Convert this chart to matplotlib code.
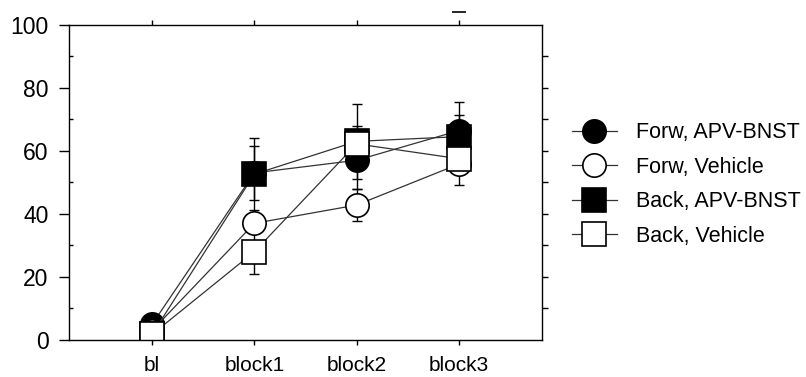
import matplotlib
matplotlib.use("Agg")
import matplotlib.pyplot as plt
import numpy as np

plt.rcParams['font.family'] = ['Liberation Sans', 'DejaVu Sans']

categories = ["bl", "block1", "block2", "block3"]
series_names = ["Forw, APV-BNST", "Forw, Vehicle", "Back, APV-BNST", "Back, Vehicle"]

forw_apv = [5.0, 53.0, 57.0, 66.4]
forw_apv_err = [0.0, 8.5, 9.0, 9.0]
forw_veh = [3.0, 37.0, 42.8, 55.8]
forw_veh_err = [0.0, 3.0, 5.0, 6.6]
back_apv = [1.8, 52.6, 63.0, 64.5]
back_apv_err = [0.0, 11.5, 12.0, 7.0]
back_veh = [1.8, 28.0, 62.2, 57.5]
back_veh_err = [0.0, 7.0, 5.7, 5.0]

stray_x = [3]
stray_y = [104]

W, H = 806, 377
fig = plt.figure(figsize=(W / 100, H / 100), dpi=100)
ax = fig.add_axes([69.3 / W, 1 - 340 / H, (541.7 - 69.3) / W, (340 - 24.7) / H])

x = np.arange(len(categories))
data = [(forw_apv, forw_apv_err, 'o', 'black'),
        (forw_veh, forw_veh_err, 'o', 'white'),
        (back_apv, back_apv_err, 's', 'black'),
        (back_veh, back_veh_err, 's', 'white')]

for vals, errs, m, fc in data:
    ax.errorbar(x, vals, yerr=errs, fmt='none', ecolor='black', elinewidth=1.0,
                capsize=3.8, capthick=1.0, zorder=2)

handles = []
for i, (vals, errs, m, fc) in enumerate(data):
    ln, = ax.plot(x, vals, color='#333333', lw=0.9, marker=m, ms=16.8,
                  mfc=fc, mec='black', mew=1.2, zorder=3 + i, clip_on=True,
                  label=series_names[i])
    handles.append(ln)

ax.plot(stray_x, stray_y, marker='_', ms=10, mew=1.2, color='black', ls='none', clip_on=False)

ax.set_xlim(-0.81, 3.81)
ax.set_ylim(0, 100)
ax.set_xticks(x)
ax.set_xticklabels(categories, fontsize=15)
ax.set_yticks(np.arange(0, 101, 20))
ax.set_yticklabels([str(v) for v in range(0, 101, 20)], fontsize=16.5)
ax.set_yticks(np.arange(10, 100, 20), minor=True)
ax.tick_params(axis='y', which='major', direction='out', length=7, width=1, pad=8)
ax.tick_params(axis='y', which='minor', direction='in', length=3, width=1)
ax.tick_params(axis='x', which='major', direction='out', length=3.5, width=1,
               top=True, pad=8)
for s in ax.spines.values():
    s.set_linewidth(1.0)
    s.set_zorder(10)

ax2 = ax.twinx()
ax2.set_ylim(0, 100)
ax2.set_yticks(np.arange(10, 100, 10))
ax2.tick_params(axis='y', direction='out', length=4.5, width=1, labelright=False)
for s in ax2.spines.values():
    s.set_visible(False)

fig.legend(handles=handles, labels=series_names, loc='upper left',
           bbox_to_anchor=(571.7 / W, 1 - 122.5 / H), frameon=False,
           fontsize=15.5, handlelength=2.1, handletextpad=0.9, labelspacing=0.62,
           borderpad=0, borderaxespad=0, markerscale=1.0)

fig.savefig("out.png", dpi=100)
